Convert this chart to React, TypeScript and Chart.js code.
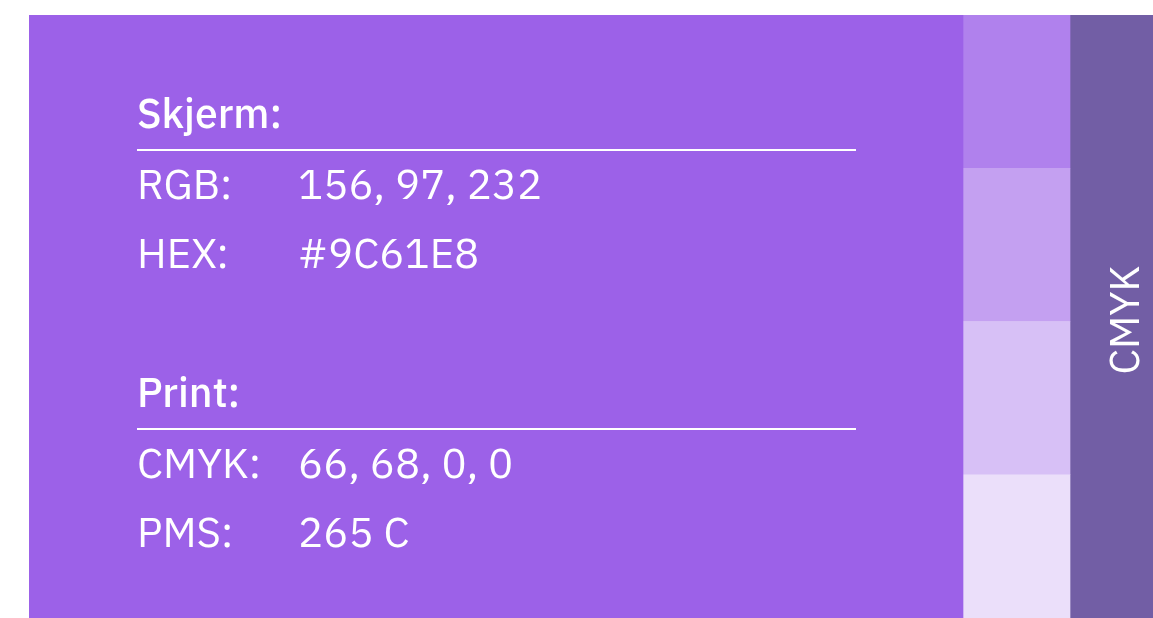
import React, { useEffect, useRef } from "react";
import { Chart, registerables } from "chart.js";

Chart.register(...registerables);

// ---- data ----
const panelLabels = ["Hovedfarge"];
const tintLabels = ["80 %", "60 %", "40 %", "20 %"];
const mainSpan: [number, number] = [0, 934];
const tintSpan: [number, number] = [934, 1041];
const shadeSpan: [number, number] = [1041, 1124];
const mainColor = "#9C61E8";
const shadeColor = "#725EA5";
const tintColors = ["#B081ED", "#C4A0F1", "#D7C0F6", "#EBDFFA"];

const screenTitle = "Skjerm:";
const screenLabels = ["RGB:", "HEX:"];
const screenValues = ["156, 97, 232", "#9C61E8"];
const printTitle = "Print:";
const printLabels = ["CMYK:", "PMS:"];
const printValues = ["66, 68, 0, 0", "265 C"];
const sideLabel = "CMYK";

const FONT = '"IBM Plex Sans", "Noto Sans", sans-serif';

const textPlugin = {
  id: "swatchText",
  afterDatasetsDraw(chart: any) {
    const ctx = chart.ctx as CanvasRenderingContext2D;
    const L = chart.chartArea.left; // 29
    const T = chart.chartArea.top; // 15
    ctx.save();
    ctx.fillStyle = "#ffffff";
    ctx.strokeStyle = "#ffffff";
    ctx.textBaseline = "alphabetic";
    ctx.textAlign = "left";
    const labelX = L + 108;
    const valueX = L + 269;
    const ruleEnd = L + 827;

    const section = (title: string, labels: string[], values: string[], titleY: number) => {
      ctx.font = `500 41px ${FONT}`;
      ctx.fillText(title, labelX, T + titleY);
      ctx.fillRect(labelX, T + titleY + 21, ruleEnd - labelX, 2);
      ctx.font = `400 42px ${FONT}`;
      labels.forEach((lab, i) => {
        const y = T + titleY + 71 + i * 69;
        ctx.fillText(lab, labelX, y);
        ctx.fillText(values[i], valueX, y);
      });
    };
    section(screenTitle, screenLabels, screenValues, 113);
    section(printTitle, printLabels, printValues, 392);

    // rotated side label
    const xs = chart.scales.x;
    const cx = (xs.getPixelForValue(shadeSpan[0]) + xs.getPixelForValue(shadeSpan[1])) / 2;
    ctx.translate(cx + 27, T + 305);
    ctx.rotate(-Math.PI / 2);
    ctx.textAlign = "center";
    ctx.font = `400 41px ${FONT}`;
    ctx.fillText(sideLabel, 0, 0);
    ctx.restore();
  },
};

export default function App() {
  const ref = useRef<HTMLCanvasElement | null>(null);
  useEffect(() => {
    document.body.style.overflow = "hidden";
    const canvas = ref.current!;
    const chart = new Chart(canvas, {
      type: "bar",
      data: {
        labels: tintLabels,
        datasets: [
          {
            label: "Hovedfarge",
            data: [{ y: panelLabels[0], x: mainSpan }] as any,
            yAxisID: "yPanel",
            backgroundColor: mainColor,
            borderWidth: 0,
            grouped: false,
            barPercentage: 1,
            categoryPercentage: 1,
          },
          {
            label: "Toner",
            data: tintLabels.map((l) => ({ y: l, x: tintSpan })) as any,
            yAxisID: "y",
            backgroundColor: tintColors,
            borderWidth: 0,
            grouped: false,
            barPercentage: 1,
            categoryPercentage: 1,
          },
          {
            label: "CMYK",
            data: [{ y: panelLabels[0], x: shadeSpan }] as any,
            yAxisID: "yPanel",
            backgroundColor: shadeColor,
            borderWidth: 0,
            grouped: false,
            barPercentage: 1,
            categoryPercentage: 1,
          },
        ],
      },
      options: {
        indexAxis: "y",
        animation: false,
        responsive: true,
        maintainAspectRatio: false,
        layout: { padding: { left: 29, top: 15, right: 0, bottom: 0 } },
        plugins: { legend: { display: false }, tooltip: { enabled: false } },
        scales: {
          x: { type: "linear", min: 0, max: 1124, display: false },
          y: { type: "category", labels: tintLabels, display: false, offset: true },
          yPanel: { type: "category", labels: panelLabels, display: false, offset: true },
        },
      } as any,
      plugins: [textPlugin],
    });
    return () => chart.destroy();
  }, []);
  return (
    <div style={{ position: "fixed", left: 0, top: 0, width: 1153, height: 628 }}>
      <canvas ref={ref} />
    </div>
  );
}
